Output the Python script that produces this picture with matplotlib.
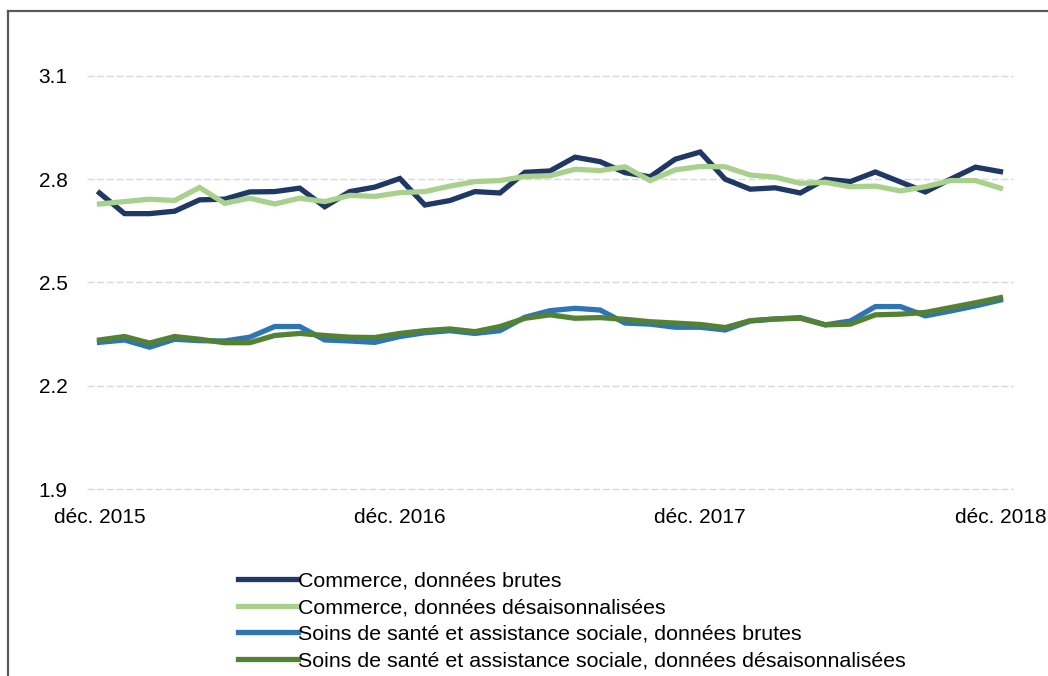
#!/usr/bin/python3

import matplotlib
matplotlib.use("Agg")
import matplotlib.pyplot as plt
from matplotlib.lines import Line2D

#monthly values, dec 2015 .. dec 2018
months = ["déc. 2015", "janv. 2016", "févr. 2016", "mars 2016", "avr. 2016", "mai 2016",
          "juin 2016", "juil. 2016", "août 2016", "sept. 2016", "oct. 2016", "nov. 2016",
          "déc. 2016", "janv. 2017", "févr. 2017", "mars 2017", "avr. 2017", "mai 2017",
          "juin 2017", "juil. 2017", "août 2017", "sept. 2017", "oct. 2017", "nov. 2017",
          "déc. 2017", "janv. 2018", "févr. 2018", "mars 2018", "avr. 2018", "mai 2018",
          "juin 2018", "juil. 2018", "août 2018", "sept. 2018", "oct. 2018", "nov. 2018",
          "déc. 2018"]

commerce_brut = [2.760, 2.700, 2.700, 2.707, 2.740, 2.742, 2.763, 2.764, 2.774, 2.720,
                 2.764, 2.777, 2.802, 2.725, 2.738, 2.764, 2.760, 2.820, 2.824, 2.864,
                 2.851, 2.819, 2.807, 2.858, 2.879, 2.800, 2.771, 2.775, 2.760, 2.800,
                 2.793, 2.821, 2.792, 2.763, 2.800, 2.835, 2.822]

commerce_desais = [2.728, 2.735, 2.742, 2.738, 2.776, 2.730, 2.745, 2.728, 2.745, 2.735,
                   2.753, 2.750, 2.761, 2.764, 2.780, 2.793, 2.796, 2.808, 2.810, 2.829,
                   2.825, 2.836, 2.796, 2.827, 2.837, 2.836, 2.812, 2.806, 2.788, 2.791,
                   2.778, 2.780, 2.766, 2.778, 2.796, 2.796, 2.774]

sante_brut = [2.326, 2.333, 2.312, 2.335, 2.331, 2.330, 2.341, 2.372, 2.372, 2.333,
              2.330, 2.326, 2.343, 2.354, 2.360, 2.352, 2.360, 2.399, 2.418, 2.425,
              2.420, 2.382, 2.379, 2.370, 2.370, 2.362, 2.388, 2.394, 2.398, 2.377,
              2.388, 2.430, 2.430, 2.403, 2.417, 2.432, 2.449]

sante_desais = [2.333, 2.343, 2.324, 2.343, 2.335, 2.325, 2.325, 2.346, 2.352, 2.346,
                2.341, 2.340, 2.352, 2.360, 2.365, 2.357, 2.372, 2.396, 2.406, 2.396,
                2.398, 2.393, 2.386, 2.382, 2.378, 2.369, 2.389, 2.394, 2.396, 2.377,
                2.379, 2.406, 2.408, 2.413, 2.427, 2.441, 2.456]

labels = ["Commerce, données brutes",
          "Commerce, données désaisonnalisées",
          "Soins de santé et assistance sociale, données brutes",
          "Soins de santé et assistance sociale, données désaisonnalisées"]

colors = ["#1F3864", "#A9D18E", "#2E75B6", "#548235"]

yticks = [1.9, 2.2, 2.5, 2.8, 3.1]
xtick_idx = [0, 12, 24, 36]

#_____________________________________________________________________________
def main():

    plt.rcParams["font.family"] = ["Liberation Sans", "DejaVu Sans"]

    fig = plt.figure()
    fig.set_size_inches(10.48, 6.76)
    ax = fig.add_axes([0.083, 0.2766, 0.8836, 0.662])

    xval = list(range(len(months)))
    series = [commerce_brut, commerce_desais, sante_brut, sante_desais]

    for s, c, l in zip(series, colors, labels):
        ax.plot(xval, s, "-", color=c, lw=3.8, label=l, solid_joinstyle="miter")

    ax.set_xlim(-0.5, len(months) - 0.5)
    ax.set_ylim(1.9, 3.2)

    ax.set_yticks(yticks)
    ax.set_yticklabels(["%.1f" % v for v in yticks])
    ax.set_xticks(xtick_idx)
    ax.set_xticklabels([months[i] for i in xtick_idx])

    ax.tick_params(axis="y", length=0, pad=14, labelsize=15)
    ax.tick_params(axis="x", length=0, pad=14, labelsize=15)

    for v in yticks:
        ax.axhline(v, color="#D9D9D9", lw=1, dashes=(5, 2), zorder=0, clip_on=False)

    for sp in ax.spines.values():
        sp.set_visible(False)

    leg = fig.legend(loc="upper left", bbox_to_anchor=(0.227, 0.1546), frameon=False,
                     fontsize=15.4, handlelength=2.8, handletextpad=0.02,
                     labelspacing=0.36, borderaxespad=0, borderpad=0)
    for h in leg.get_lines():
        h.set_linewidth(3.8)

    #outer frame, top and left edges only
    fig.add_artist(Line2D([0.0072, 1.0], [0.9837, 0.9837], color="#595959", lw=1.6,
                          transform=fig.transFigure))
    fig.add_artist(Line2D([0.0072, 0.0072], [0.0, 0.9837], color="#595959", lw=1.6,
                          transform=fig.transFigure))

    fig.savefig("out.png", dpi=100)
    plt.close()

#main

#_____________________________________________________________________________
if __name__ == "__main__":

    main()
